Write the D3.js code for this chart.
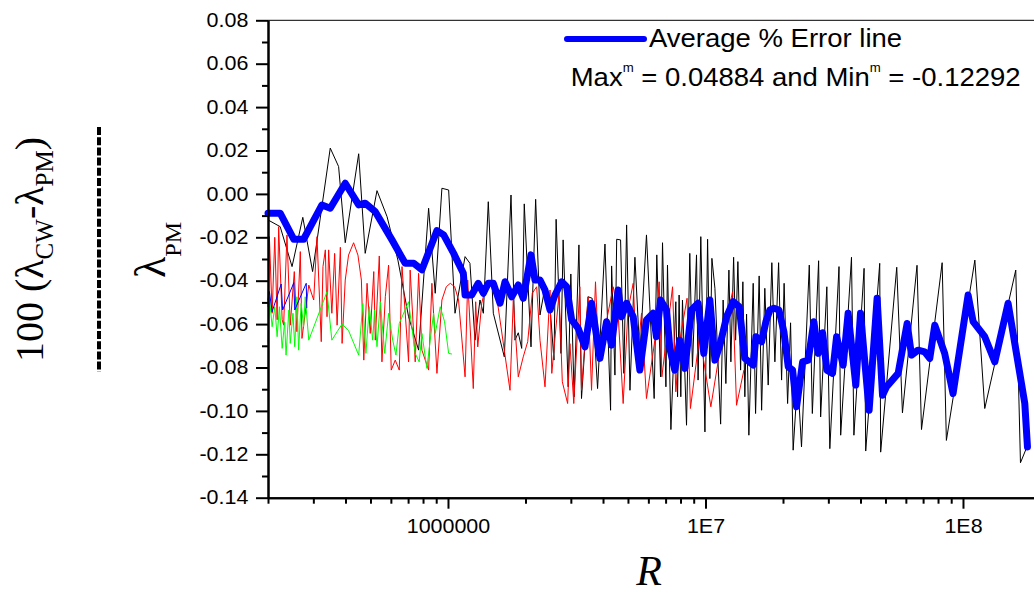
<!DOCTYPE html>
<html lang="en">
<head>
<meta charset="UTF-8">
<title>Average % Error line</title>
<script src="https://d3js.org/d3.v7.min.js"></script>
<style>
  body { margin: 0; background: #fff; }
  svg text { font-family: "Liberation Sans", Arial, sans-serif; fill: #000; }
  svg .serif { font-family: "Liberation Serif", "Times New Roman", serif; }
</style>
</head>
<body>
<div id="wrapper"></div>
<script>
// values: [R, error]
const blackLine = [
  [2.00e5,-0.012],[2.23e5,-0.0151],[2.48e5,-0.0335],[2.73e5,-0.0108],[2.98e5,-0.0358],[3.49e5,0.0211],[3.76e5,0.0126],
  [3.99e5,-0.0225],[4.50e5,0.0185],[4.77e5,-0.0274],[5.30e5,0.0015],[5.80e5,-0.0105],[6.39e5,-0.0305],[7.03e5,-0.0566],
  [7.69e5,-0.072],[8.41e5,-0.0066],[8.92e5,-0.0458],[9.47e5,0.0026],[1.006e6,0.0018],[1.065e6,-0.055],[1.165e6,-0.0289],
  [1.217e6,-0.032],[1.273e6,-0.0674],[1.331e6,-0.0489],[1.372e6,-0.055],[1.434e6,-0.0036],[1.500e6,-0.055],[1.655e6,-0.0751],
  [1.757e6,-0.0005],[1.820e6,-0.0674],[1.875e6,-0.064],[1.933e6,-0.0712],[1.978e6,-0.0046],[2.101e6,-0.0705],[2.19e6,-0.0025],
  [2.277e6,-0.0558],[2.381e6,-0.0428],[2.490e6,-0.052],[2.58e6,-0.0766],[2.63e6,-0.0117],[2.747e6,-0.0735],[2.80e6,-0.0212],
  [2.93e6,-0.0889],[3.00e6,-0.0369],[3.09e6,-0.0935],[3.225e6,-0.0235],[3.30e6,-0.0943],[3.50e6,-0.0474],[3.63e6,-0.0481],
  [3.81e6,-0.0897],[4.07e6,-0.0231],[4.28e6,-0.0997],[4.32e6,-0.0332],[4.45e6,-0.0835],[4.52e6,-0.0209],[4.68e6,-0.0212],
  [4.82e6,-0.0827],[4.94e6,-0.0143],[5.09e6,-0.0905],[5.32e6,-0.0292],[5.56e6,-0.0743],[5.90e6,-0.0189],[6.32e6,-0.0943],
  [6.47e6,-0.0281],[6.69e6,-0.0843],[6.81e6,-0.0225],[7.02e6,-0.0889],[7.12e6,-0.0328],[7.34e6,-0.1086],[7.67e6,-0.0497],
  [7.79e6,-0.0935],[7.90e6,-0.0466],[8.02e6,-0.0935],[8.14e6,-0.0489],[8.44e6,-0.1066],[8.69e6,-0.0274],[8.90e6,-0.0797],
  [9.23e6,-0.0281],[9.36e6,-0.0858],[9.59e6,-0.0197],[9.95e6,-0.1097],[1.019e7,-0.0209],[1.040e7,-0.0851],[1.059e7,-0.0297],
  [1.088e7,-0.0435],[1.145e7,-0.1061],[1.171e7,-0.0489],[1.200e7,-0.0874],[1.233e7,-0.0351],[1.255e7,-0.0774],[1.286e7,-0.0292],
  [1.309e7,-0.0674],[1.336e7,-0.0312],[1.369e7,-0.0812],[1.397e7,-0.0405],[1.422e7,-0.0935],[1.444e7,-0.0554],[1.474e7,-0.1112],
  [1.532e7,-0.0412],[1.565e7,-0.1012],[1.616e7,-0.0378],[1.652e7,-0.0997],[1.70e7,-0.0435],[1.752e7,-0.0881],[1.81e7,-0.0317],
  [1.86e7,-0.0774],[1.923e7,-0.0317],[1.975e7,-0.0858],[2.02e7,-0.0412],[2.084e7,-0.0966],[2.14e7,-0.0594],[2.19e7,-0.1181],
  [2.28e7,-0.085],[2.36e7,-0.1166],[2.53e7,-0.0328],[2.60e7,-0.1012],[2.75e7,-0.0308],[2.80e7,-0.1028],[2.96e7,-0.0428],
  [3.04e7,-0.1174],[3.30e7,-0.0335],[3.35e7,-0.1112],[3.69e7,-0.0292],[3.77e7,-0.1112],[4.13e7,-0.0343],[4.19e7,-0.1185],
  [4.75e7,-0.032],[4.79e7,-0.119],[5.53e7,-0.0338],[5.82e7,-0.1009],[6.63e7,-0.0329],[6.90e7,-0.1086],[8.30e7,-0.0317],
  [8.62e7,-0.1136],[1.112e8,-0.0305],[1.215e8,-0.0989],[1.603e8,-0.0351],[1.672e8,-0.1239],[1.78e8,-0.116]
];

const redLine = [
  [2.00e5,-0.052],[2.025e5,-0.0197],[2.075e5,-0.055],[2.125e5,-0.020],[2.17e5,-0.058],[2.20e5,-0.0151],[2.27e5,-0.058],
  [2.30e5,-0.0605],[2.37e5,-0.0189],[2.44e5,-0.0605],[2.53e5,-0.0358],[2.59e5,-0.0635],[2.67e5,-0.0266],[2.71e5,-0.0666],
  [2.88e5,-0.042],[3.01e5,-0.0489],[3.10e5,-0.0197],[3.22e5,-0.0681],[3.27e5,-0.0335],[3.34e5,-0.0258],[3.39e5,-0.0566],
  [3.44e5,-0.0258],[3.54e5,-0.055],[3.63e5,-0.0274],[3.71e5,-0.0605],[3.82e5,-0.0246],[3.88e5,-0.0689],[3.99e5,-0.0397],
  [4.11e5,-0.0282],[4.30e5,-0.0225],[4.47e5,-0.0282],[4.61e5,-0.0397],[4.71e5,-0.0766],[4.85e5,-0.0412],[4.99e5,-0.0643],
  [5.15e5,-0.0358],[5.22e5,-0.0674],[5.41e5,-0.0286],[5.54e5,-0.0774],[5.71e5,-0.0474],[5.88e5,-0.0328],[6.02e5,-0.0812],
  [6.24e5,-0.0766],[6.47e5,-0.0812],[6.63e5,-0.0335],[7.03e5,-0.0774],[7.13e5,-0.0351],[7.46e5,-0.0774],[7.69e5,-0.0366],
  [7.92e5,-0.072],[8.41e5,-0.0812],[8.66e5,-0.0412],[9.06e5,-0.0827],[9.47e5,-0.0489],[9.85e5,-0.0428],[1.021e6,-0.0412],
  [1.062e6,-0.0428],[1.099e6,-0.0489],[1.165e6,-0.0843],[1.193e6,-0.0397],[1.254e6,-0.0897],[1.281e6,-0.0497],[1.305e6,-0.0705],
  [1.352e6,-0.0504],[1.413e6,-0.0412],[1.478e6,-0.0397],[1.546e6,-0.0474],[1.741e6,-0.0905],[1.793e6,-0.0489],[1.875e6,-0.0843],
  [1.960e6,-0.0751],[2.04e6,-0.0681],[2.125e6,-0.0458],[2.21e6,-0.0428],[2.277e6,-0.0674],[2.381e6,-0.0889],[2.490e6,-0.0443],
  [2.53e6,-0.0827],[2.70e6,-0.0458],[2.78e6,-0.0866],[2.915e6,-0.0966],[2.975e6,-0.069],[3.08e6,-0.0966],[3.25e6,-0.0428],
  [3.30e6,-0.0905],[3.50e6,-0.0474],[3.61e6,-0.0905],[3.74e6,-0.0405],[3.855e6,-0.0766],[4.38e6,-0.0428],[4.57e6,-0.0535],
  [4.79e6,-0.0966],[5.00e6,-0.0535],[5.24e6,-0.0412],[5.41e6,-0.0774],[5.645e6,-0.055],[5.90e6,-0.0943],[6.36e6,-0.0674],
  [6.61e6,-0.0405],[6.77e6,-0.0843],[7.45e6,-0.0428],[7.67e6,-0.0912],[7.95e6,-0.0674],[8.48e6,-0.0481],[8.74e6,-0.0989],
  [9.50e6,-0.065],[1.049e7,-0.0981],[1.138e7,-0.072],[1.274e7,-0.0451],[1.32e7,-0.0974],[1.41e7,-0.0812]
];

const greenLine = [
  [2.00e5,-0.0689],[2.025e5,-0.0474],[2.075e5,-0.0612],[2.125e5,-0.052],[2.17e5,-0.0658],[2.215e5,-0.052],[2.27e5,-0.0712],
  [2.32e5,-0.0589],[2.35e5,-0.0743],[2.41e5,-0.0535],[2.44e5,-0.0689],[2.50e5,-0.055],[2.54e5,-0.0704],[2.59e5,-0.0474],
  [2.63e5,-0.072],[2.69e5,-0.0504],[2.75e5,-0.0612],[2.79e5,-0.0474],[2.88e5,-0.0674],[3.39e5,-0.0451],[3.54e5,-0.0674],
  [3.71e5,-0.0635],[3.88e5,-0.060],[4.11e5,-0.063],[4.50e5,-0.0743],[4.67e5,-0.0504],[4.80e5,-0.0735],[4.95e5,-0.052],
  [5.10e5,-0.0674],[5.19e5,-0.0535],[5.30e5,-0.0704],[5.46e5,-0.0497],[5.68e5,-0.0735],[5.88e5,-0.055],[6.10e5,-0.0674],
  [6.28e5,-0.0743],[6.47e5,-0.0597],[7.03e5,-0.0497],[7.46e5,-0.0735],[7.73e5,-0.0774],[7.92e5,-0.0643],[8.28e5,-0.0804],
  [8.53e5,-0.0674],[8.79e5,-0.055],[8.92e5,-0.0643],[9.33e5,-0.052],[9.70e5,-0.0589],[1.006e6,-0.0735],[1.036e6,-0.0738]
];

const blueThin = [
  [2.00e5,-0.0489],[2.025e5,-0.045],[2.075e5,-0.0543],[2.25e5,-0.0415],[2.28e5,-0.0535],[2.52e5,-0.0409],[2.54e5,-0.0535],
  [2.815e5,-0.0412],[2.83e5,-0.0527]
];

// average % error line
const avgLine = [
  [2.00e5,-0.0089],[2.23e5,-0.0089],[2.52e5,-0.0209],[2.75e5,-0.0209],[3.24e5,-0.0051],[3.49e5,-0.0066],[3.99e5,0.0049],
  [4.50e5,-0.0051],[4.77e5,-0.0043],[5.22e5,-0.0082],[6.06e5,-0.0212],[6.82e5,-0.032],[7.36e5,-0.032],[7.92e5,-0.035],
  [9.06e5,-0.0169],[9.62e5,-0.0189],[1.052e6,-0.0274],[1.147e6,-0.0366],[1.165e6,-0.0466],[1.236e6,-0.0466],[1.311e6,-0.0412],
  [1.372e6,-0.0458],[1.434e6,-0.0412],[1.500e6,-0.0412],[1.593e6,-0.0504],[1.665e6,-0.0405],[1.768e6,-0.0474],[1.875e6,-0.042],
  [1.960e6,-0.0481],[2.101e6,-0.0281],[2.177e6,-0.0397],[2.277e6,-0.0397],[2.381e6,-0.0443],[2.490e6,-0.0535],[2.603e6,-0.0466],
  [2.764e6,-0.0405],[2.890e6,-0.0428],[3.022e6,-0.0581],[3.205e6,-0.062],[3.403e6,-0.0705],[3.612e6,-0.0504],[3.891e6,-0.0758],
  [4.13e6,-0.0589],[4.32e6,-0.0697],[4.58e6,-0.0443],[4.72e6,-0.0566],[4.94e6,-0.0504],[5.24e6,-0.0566],[5.56e6,-0.0812],
  [5.90e6,-0.0581],[6.26e6,-0.055],[6.45e6,-0.0658],[6.69e6,-0.0489],[7.06e6,-0.0535],[7.27e6,-0.0712],[7.60e6,-0.0812],
  [7.95e6,-0.0674],[8.32e6,-0.0804],[8.82e6,-0.0535],[9.36e6,-0.0504],[9.85e6,-0.0735],[1.040e7,-0.0489],[1.088e7,-0.0766],
  [1.138e7,-0.0697],[1.208e7,-0.0566],[1.281e7,-0.0497],[1.352e7,-0.052],[1.422e7,-0.0758],[1.532e7,-0.0789],[1.570e7,-0.0658],
  [1.652e7,-0.0681],[1.716e7,-0.0589],[1.779e7,-0.0535],[1.844e7,-0.0527],[1.928e7,-0.0535],[2.016e7,-0.0635],[2.096e7,-0.0797],
  [2.179e7,-0.0812],[2.258e7,-0.0981],[2.383e7,-0.0774],[2.505e7,-0.0766],[2.636e7,-0.0589],[2.739e7,-0.0735],[2.85e7,-0.064],
  [2.96e7,-0.0812],[3.114e7,-0.0827],[3.23e7,-0.0658],[3.425e7,-0.0789],[3.58e7,-0.055],[3.835e7,-0.0881],[4.00e7,-0.055],
  [4.32e7,-0.0997],[4.64e7,-0.0481],[4.87e7,-0.0928],[5.05e7,-0.0889],[5.60e7,-0.0827],[6.07e7,-0.0597],[6.31e7,-0.0743],
  [6.69e7,-0.072],[7.10e7,-0.0728],[7.43e7,-0.0758],[7.77e7,-0.0605],[8.49e7,-0.0735],[9.15e7,-0.092],[1.047e8,-0.0466],
  [1.095e8,-0.0589],[1.215e8,-0.0658],[1.329e8,-0.0774],[1.497e8,-0.0504],[1.613e8,-0.0735],[1.738e8,-0.0966],[1.78e8,-0.1166]
];

const yTicks = [0.08, 0.06, 0.04, 0.02, 0.00, -0.02, -0.04, -0.06, -0.08, -0.10, -0.12, -0.14];
const yTickLabels = ["0.08","0.06","0.04","0.02","0.00","-0.02","-0.04","-0.06","-0.08","-0.10","-0.12","-0.14"];
const yMinorTicks = [0.07, 0.05, 0.03, 0.01, -0.01, -0.03, -0.05, -0.07, -0.09, -0.11, -0.13];
const xTicks = [1e6, 1e7, 1e8];
const xTickLabels = ["1000000", "1E7", "1E8"];
const legendLabel = "Average % Error line";

// plot box; the right end (2E8) runs just past the window
const margin = {top: 20.3, right: -6.5, bottom: 97.3, left: 268},
  width = 1034 - margin.left - margin.right,
  height = 595 - margin.top - margin.bottom;

const svg = d3.select("#wrapper")
  .append("svg")
    .attr("width", 1034)
    .attr("height", 595)
    .style("display", "block");

const g = svg.append("g")
  .attr("transform", `translate(${margin.left},${margin.top})`);

const x = d3.scaleLog().domain([2e5, 2e8]).range([0, width]);
const y = d3.scaleLinear().domain([-0.14, 0.08]).range([height, 0]);

// frame top and right
g.append("line").attr("x1", 0).attr("x2", width).attr("y1", 0).attr("y2", 0)
  .attr("stroke", "#000").attr("stroke-width", 1);
g.append("line").attr("x1", width).attr("x2", width).attr("y1", 0).attr("y2", height)
  .attr("stroke", "#000").attr("stroke-width", 1);

// series
const line = d3.line().x(d => x(d[0])).y(d => y(d[1]));
const thin = [
  {data: blackLine, color: "#000000"},
  {data: redLine, color: "#ff0000"},
  {data: greenLine, color: "#00ff00"},
  {data: blueThin, color: "#0000ff"}
];
g.selectAll(".thin")
  .data(thin)
  .join("path")
    .attr("class", "thin")
    .attr("fill", "none")
    .attr("stroke", d => d.color)
    .attr("stroke-width", 1)
    .attr("d", d => line(d.data));

g.append("path")
  .datum(avgLine)
  .attr("fill", "none")
  .attr("stroke", "#0000ff")
  .attr("stroke-width", 7)
  .attr("stroke-linejoin", "round")
  .attr("stroke-linecap", "round")
  .attr("d", line);

// y axis
const yAxis = g.append("g")
  .call(d3.axisLeft(y).tickValues(yTicks)
    .tickFormat(d => yTickLabels[yTicks.indexOf(d)])
    .tickSize(12).tickPadding(7).tickSizeOuter(0));
g.append("g")
  .call(d3.axisLeft(y).tickValues(yMinorTicks).tickFormat("").tickSize(6).tickSizeOuter(0));

// x axis
const xAxis = g.append("g")
  .attr("transform", `translate(0,${height})`)
  .call(d3.axisBottom(x).tickValues(xTicks)
    .tickFormat(d => xTickLabels[xTicks.indexOf(d)])
    .tickSize(11).tickPadding(10).tickSizeOuter(0));
g.append("g")
  .attr("transform", `translate(0,${height})`)
  .call(d3.axisBottom(x).tickValues(x.ticks().filter(d => !xTicks.includes(d)))
    .tickFormat("").tickSize(6).tickSizeOuter(0));

g.selectAll(".domain").attr("stroke-width", 2);
g.selectAll(".tick line").attr("stroke-width", 2);
g.selectAll(".tick text").style("font-family", null).attr("font-size", 19.5);
yAxis.selectAll(".tick text").attr("x", -17.9).attr("transform", "scale(1.1,1)");
xAxis.selectAll(".tick text").attr("transform", "scale(1.1,1)");

// legend
svg.append("line")
  .attr("x1", 567).attr("x2", 644).attr("y1", 39).attr("y2", 39)
  .attr("stroke", "#0000ff").attr("stroke-width", 6).attr("stroke-linecap", "round");
svg.append("text")
  .attr("transform", "translate(649,47) scale(1.1,1)")
  .attr("font-size", 25)
  .text(legendLabel);

const note = svg.append("text")
  .attr("transform", "translate(570.7,86) scale(1.1,1)")
  .attr("font-size", 25);
note.append("tspan").text("Max");
note.append("tspan").attr("font-size", 12).attr("dy", -14).text("m");
note.append("tspan").attr("dy", 14).text(" = 0.04884 and Min");
note.append("tspan").attr("font-size", 12).attr("dy", -14).text("m");
note.append("tspan").attr("dy", 14).text(" = -0.12292");

// y axis title as a fraction
const num = svg.append("text")
  .attr("class", "serif")
  .attr("transform", "translate(43,249.5) rotate(-90)")
  .attr("text-anchor", "middle")
  .attr("font-size", 40);
num.append("tspan").text("100 (λ");
num.append("tspan").attr("font-size", 25).attr("dy", 10).text("CW");
num.append("tspan").attr("dy", -10).text("-λ");
num.append("tspan").attr("font-size", 25).attr("dy", 10).text("PM");
num.append("tspan").attr("dy", -10).text(")");

svg.append("line")
  .attr("x1", 99).attr("x2", 99).attr("y1", 127).attr("y2", 372)
  .attr("stroke", "#000").attr("stroke-width", 4).attr("stroke-dasharray", "8,2.2");

const den = svg.append("text")
  .attr("class", "serif")
  .attr("transform", "translate(165,250) rotate(-90)")
  .attr("text-anchor", "middle")
  .attr("font-size", 44);
den.append("tspan").text("λ");
den.append("tspan").attr("font-size", 24).attr("dy", 16).text("PM");

// x axis title
svg.append("text")
  .attr("class", "serif")
  .attr("x", 649).attr("y", 585)
  .attr("text-anchor", "middle")
  .attr("font-size", 42)
  .attr("font-style", "italic")
  .text("R");
</script>
</body>
</html>
